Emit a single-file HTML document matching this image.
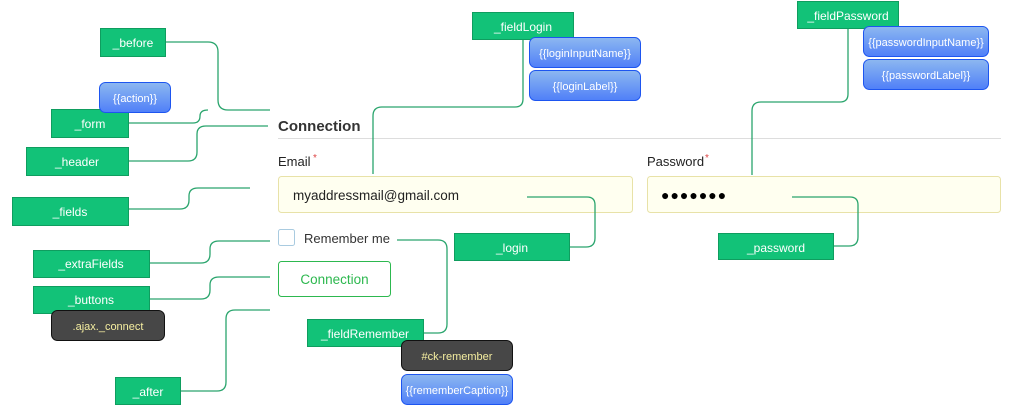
<!DOCTYPE html>
<html><head><meta charset="utf-8"><style>
html,body{margin:0;padding:0;background:#fff;}
svg{display:block;}
text{font-family:"Liberation Sans","DejaVu Sans",sans-serif;}
</style></head><body>
<svg width="1011" height="420" viewBox="0 0 1011 420" xmlns="http://www.w3.org/2000/svg">
<defs>
<linearGradient id="bl" x1="0" y1="0" x2="0" y2="1"><stop offset="0" stop-color="#8db8f0"/><stop offset="1" stop-color="#4f7ff8"/></linearGradient>
</defs>
<!-- form -->
<text x="278" y="131" font-size="15" font-weight="bold" fill="#333">Connection</text>
<line x1="278" y1="138.5" x2="1001" y2="138.5" stroke="#ddd"/>
<text x="278" y="166" font-size="13" fill="#222">Email</text><text x="313" y="161" font-size="10" fill="#d44">*</text>
<text x="647" y="166" font-size="13" fill="#222">Password</text><text x="705" y="161" font-size="10" fill="#d44">*</text>
<rect x="278.5" y="176.5" width="354" height="36" rx="3" fill="#fffff0" stroke="#e8e2a8"/>
<text x="293" y="200" font-size="13.5" fill="#222">myaddressmail@gmail.com</text>
<rect x="647.5" y="176.5" width="353" height="36" rx="3" fill="#fffff0" stroke="#e8e2a8"/>
<text x="661" y="200" font-size="14" fill="#000" letter-spacing="1">●●●●●●●</text>
<rect x="278.5" y="229.5" width="16" height="16" rx="2" fill="#fff" stroke="#a9cbe0"/>
<text x="304" y="243" font-size="13" fill="#333">Remember me</text>
<rect x="278.5" y="261.5" width="112" height="35" rx="3" fill="#fff" stroke="#2db84f"/>
<text x="334.5" y="284" font-size="13.5" fill="#2db84f" text-anchor="middle">Connection</text>
<!-- connectors -->
<g fill="none" stroke="#2aa56d" stroke-width="1.3">
<path d="M165 42 H208 Q218 42 218 52 V100 Q218 110 228 110 H270"/>
<path d="M128 123 H193 Q200 123 200 116 Q200 110 208 110"/>
<path d="M128 161 H188 Q197 161 197 152 V134 Q197 126 206 126 H268"/>
<path d="M128 209 H180 Q189 209 189 200 V196 Q189 188 198 188 H250"/>
<path d="M149 263 H201 Q210 263 210 254 V249 Q210 241 219 241 H270"/>
<path d="M149 299 H201 Q210 299 210 290 V285 Q210 277 219 277 H270"/>
<path d="M180 391 H217 Q226 391 226 382 V319 Q226 310 235 310 H270"/>
<path d="M423 333 H438 Q447 333 447 324 V249 Q447 240 438 240 H397"/>
<path d="M523 39 V99 Q523 107 515 107 H382 Q373 107 373 116 V174"/>
<path d="M569 247 H586 Q595 247 595 238 V205 Q595 197 587 197 H527"/>
<path d="M848 28 V94 Q848 102 840 102 H761 Q752 102 752 111 V175"/>
<path d="M833 246 H849 Q858 246 858 237 V205 Q858 197 850 197 H792"/>
</g>
<!-- green boxes -->
<g fill="#12c278" stroke="#0f9d5f">
<rect x="100.5" y="28.5" width="65" height="28"/>
<rect x="51.5" y="109.5" width="77" height="28"/>
<rect x="26.5" y="147.5" width="102" height="28"/>
<rect x="12.5" y="197.5" width="116" height="28"/>
<rect x="33.5" y="250.5" width="116" height="27"/>
<rect x="33.5" y="286.5" width="116" height="27"/>
<rect x="115.5" y="377.5" width="65" height="27"/>
<rect x="307.5" y="319.5" width="116" height="27"/>
<rect x="472.5" y="12.5" width="101" height="27"/>
<rect x="454.5" y="233.5" width="115" height="27"/>
<rect x="797.5" y="1.5" width="101" height="27"/>
<rect x="718.5" y="233.5" width="115" height="26"/>
</g>
<g font-size="12" fill="#fff" text-anchor="middle">
<text x="133" y="47">_before</text>
<text x="90" y="128">_form</text>
<text x="77" y="166">_header</text>
<text x="70" y="216">_fields</text>
<text x="91" y="268">_extraFields</text>
<text x="91" y="304">_buttons</text>
<text x="148" y="396">_after</text>
<text x="365" y="338">_fieldRemember</text>
<text x="523" y="31">_fieldLogin</text>
<text x="512" y="252">_login</text>
<text x="848" y="20">_fieldPassword</text>
<text x="776" y="252">_password</text>
</g>
<!-- blue boxes -->
<g fill="url(#bl)" stroke="#1d55f0">
<rect x="99.5" y="82.5" width="71" height="30" rx="6"/>
<rect x="529.5" y="37.5" width="111" height="30" rx="6"/>
<rect x="529.5" y="70.5" width="111" height="30" rx="6"/>
<rect x="863.5" y="26.5" width="125" height="30" rx="6"/>
<rect x="863.5" y="59.5" width="125" height="30" rx="6"/>
<rect x="401.5" y="374.5" width="111" height="30" rx="6"/>
</g>
<g font-size="11" fill="#fff" text-anchor="middle">
<text x="135" y="102">{{action}}</text>
<text x="585" y="57">{{loginInputName}}</text>
<text x="585" y="90">{{loginLabel}}</text>
<text x="926" y="46">{{passwordInputName}}</text>
<text x="926" y="79">{{passwordLabel}}</text>
<text x="457" y="394">{{rememberCaption}}</text>
</g>
<!-- dark boxes -->
<g fill="#474747" stroke="#111">
<rect x="51.5" y="310.5" width="113" height="30" rx="6"/>
<rect x="401.5" y="340.5" width="111" height="30" rx="6"/>
</g>
<g font-size="11" fill="#f5eea0" text-anchor="middle">
<text x="108" y="330">.ajax._connect</text>
<text x="457" y="360">#ck-remember</text>
</g>
</svg>
</body></html>
